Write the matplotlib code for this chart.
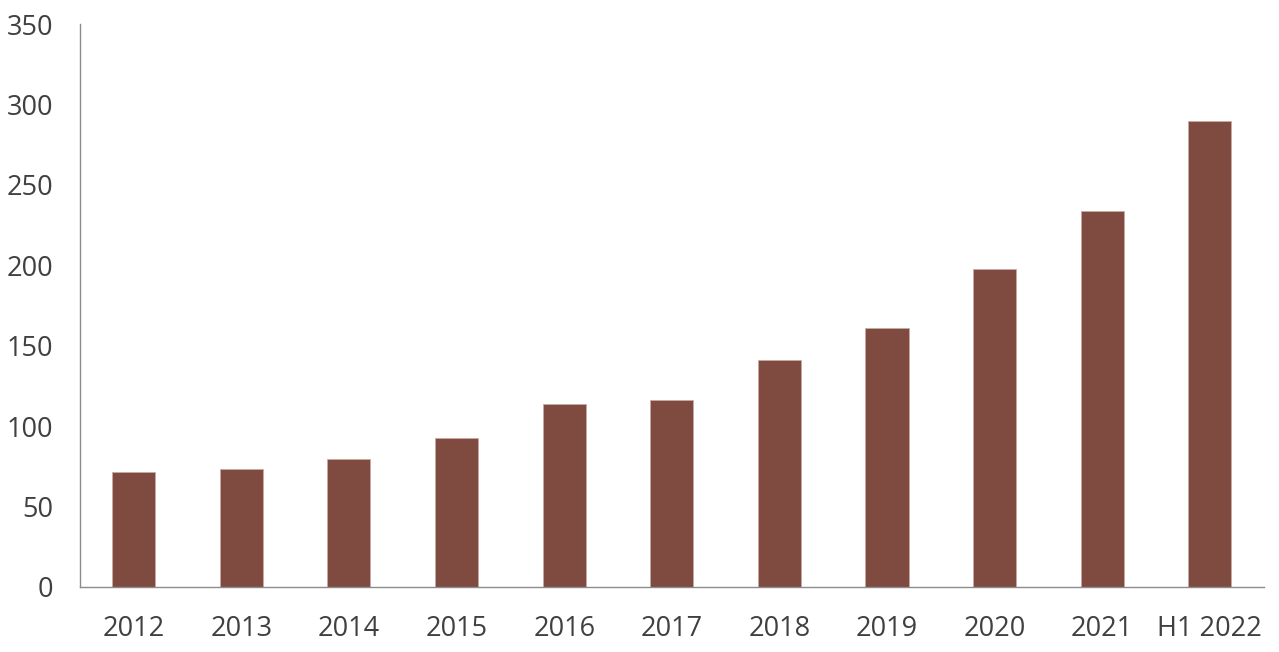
import matplotlib.pyplot as plt
from matplotlib.ticker import MultipleLocator

# Werte
jahre = ['2012', '2013', '2014', '2015', '2016', '2017', '2018', '2019', '2020', '2021', 'H1 2022']
werte = [71.5, 73.3, 79.6, 92.6, 113.7, 116.2, 141.1, 161.0, 197.6, 233.7, 289.6]

plt.rcParams['font.family'] = ['Open Sans', 'DejaVu Sans']

fig = plt.figure(figsize=(12.79, 6.52), dpi=100)
ax = fig.add_axes([0.0625, 0.0997, 0.9255, 0.8633])

ax.bar(range(len(jahre)), werte, width=0.4, color='#7f4a40',
       edgecolor='#c9a9a3', linewidth=0.6)

ax.set_xlim(-0.5, len(jahre) - 0.5)
ax.set_ylim(0, 350)
ax.yaxis.set_major_locator(MultipleLocator(50))
ax.set_xticks(range(len(jahre)))
ax.set_xticklabels(jahre)

for s in ['top', 'right']:
    ax.spines[s].set_visible(False)
for s in ['left', 'bottom']:
    ax.spines[s].set_color('#8c8c8c')
    ax.spines[s].set_linewidth(1.0)

ax.tick_params(axis='both', length=0, labelsize=19.5, colors='#404040')
ax.tick_params(axis='x', pad=20)
ax.tick_params(axis='y', pad=19.5)

fig.savefig('out.png', dpi=100)
